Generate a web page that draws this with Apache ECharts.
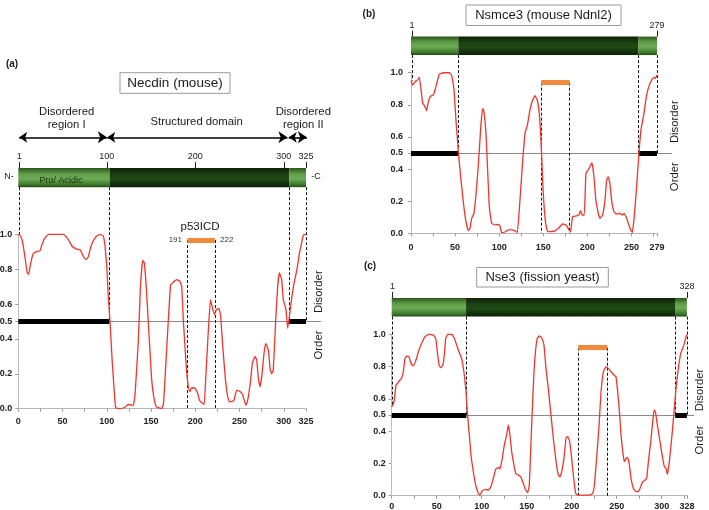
<!DOCTYPE html>
<html><head><meta charset="utf-8">
<script src="https://cdn.jsdelivr.net/npm/echarts@6/dist/echarts.min.js"></script>
<style>html,body{margin:0;padding:0;background:#fff}#c{width:709px;height:510px}</style>
</head><body><div id="c"></div>
<script>
// ---------- DATA ----------
const yTickValues = [0, 0.2, 0.4, 0.5, 0.6, 0.8, 1.0];

// Panel (a) Necdin (mouse)
const aLength = 325;
const aTopTicks = [1, 100, 200, 300, 325];
const aBottomLabels = [0, 50, 100, 150, 200, 250, 300, 325];
const aBottomTicks = [0, 25, 50, 75, 100, 125, 150, 175, 200, 225, 250, 275, 300, 325];
const aDomains = [[0, 103, 0], [103, 306, 1], [306, 325, 0]];
const aDisorderBars = [[0, 103], [306, 325]];
const aBoundaryDashes = [[1, 1.0], [103, 0.5], [306, 0.5], [325, 0.5]];
const aSite = [191, 222];
const aArrows = [[1, 100], [100.5, 304], [305.5, 326]];
const aCurve = [[0,1.0],[2.6,0.99],[5,0.95],[7.5,0.87],[10,0.78],[11.7,0.77],[14,0.835],[17,0.89],[20.7,0.90],[24.5,0.905],[26,0.93],[29,0.97],[34,1.0],[51,1.0],[56.5,0.97],[61,0.93],[66,0.915],[70,0.91],[72.7,0.88],[76.5,0.855],[79,0.87],[82,0.93],[86.6,0.98],[92,1.0],[96,0.99],[98,0.93],[100,0.81],[101.7,0.64],[103.6,0.5],[106,0.28],[108.5,0.09],[110,0.005],[115,0.0],[120.5,0.008],[124,0.025],[128,0.02],[130,0.02],[132,0.09],[135.6,0.39],[138,0.70],[140.5,0.85],[142.4,0.835],[145,0.66],[148,0.395],[150.7,0.165],[153,0.07],[156,0.01],[162,0.0],[164,0.03],[166.5,0.24],[169.5,0.51],[172,0.71],[174,0.72],[176,0.73],[179,0.74],[182.7,0.73],[184.6,0.70],[186.4,0.51],[189.5,0.26],[192,0.126],[194,0.098],[196,0.12],[199.6,0.117],[202.6,0.088],[204.5,0.05],[207,0.035],[210,0.025],[212,0.2],[214.7,0.45],[217,0.625],[219,0.585],[221.5,0.54],[224,0.57],[226.7,0.575],[228.6,0.53],[231,0.356],[234,0.165],[236.5,0.07],[238.4,0.04],[241,0.04],[243.7,0.05],[246.7,0.107],[250.5,0.098],[253.5,0.08],[257,0.02],[258.8,0.04],[261.8,0.136],[264.4,0.26],[267.4,0.30],[269.3,0.28],[271,0.184],[273,0.126],[275,0.184],[277.6,0.318],[279.5,0.375],[282.5,0.337],[284.4,0.23],[286.2,0.2],[288,0.22],[290.8,0.51],[293,0.70],[295,0.78],[297.5,0.74],[299.4,0.625],[302.4,0.567],[304.3,0.46],[306,0.52],[309,0.64],[311.5,0.72],[314.5,0.79],[317.5,0.89],[320,0.95],[322,0.996],[325,1.0]];

// Panel (b) Nsmce3 (mouse Ndnl2)
const bLength = 279;
const bTopTicks = [1, 279];
const bBottomLabels = [0, 50, 100, 150, 200, 250, 279];
const bBottomTicks = [0, 25, 50, 75, 100, 125, 150, 175, 200, 225, 250, 275, 279];
const bDomains = [[0, 53.6, 0], [53.6, 258, 1], [258, 279, 0]];
const bDisorderBars = [[0, 54], [258, 279]];
const bBoundaryDashes = [[1, 0.95], [53.6, 0.5], [258, 0.5], [279, 0.5]];
const bSite = [147.6, 180];
const bCurve = [[0,0.95],[1.9,0.923],[4.5,0.944],[7.2,0.954],[9.4,0.971],[11,0.913],[13.2,0.813],[15.9,0.788],[17.8,0.763],[19.7,0.82],[22.3,0.855],[25.3,0.861],[28.3,0.913],[32,0.99],[36.7,1.0],[43.5,1.0],[46,0.985],[48.8,0.892],[51,0.705],[53.7,0.508],[56.3,0.353],[59.3,0.197],[62,0.083],[65,0.017],[67,0.031],[68.8,0.093],[71.4,0.124],[74.5,0.29],[77.5,0.519],[79.4,0.685],[81.3,0.778],[82.8,0.757],[85,0.622],[86.9,0.394],[88.8,0.166],[91.5,0.062],[95.2,0.052],[99,0.056],[100.9,0.046],[102.8,0.004],[106.6,0.008],[110.4,0.021],[114,0.021],[118,0.015],[120.6,0.004],[123.6,0.207],[126.2,0.415],[129.3,0.622],[132,0.674],[134.9,0.768],[138,0.83],[140.6,0.857],[143.2,0.83],[145.5,0.747],[147,0.622],[148.1,0.498],[150,0.249],[152.7,0.062],[155,0.01],[157.6,0.01],[163.3,0.015],[167.1,0.031],[172,0.058],[175.8,0.052],[179.5,0.02],[181,0.01],[183.3,0.104],[187.8,0.108],[190.8,0.12],[192.3,0.141],[193.9,0.114],[196.5,0.114],[198.4,0.373],[201,0.394],[203.7,0.425],[205.2,0.44],[207.5,0.353],[209.7,0.207],[212.4,0.124],[214.3,0.093],[217.3,0.114],[220,0.207],[221.9,0.332],[223.7,0.353],[225.6,0.311],[227.5,0.207],[230.2,0.135],[233.2,0.12],[237,0.124],[240,0.114],[241.5,0.124],[243.8,0.104],[246.5,0.062],[249.1,0.02],[251,0.004],[253.2,0.104],[255.9,0.29],[258.5,0.498],[260.8,0.643],[264.2,0.747],[267.2,0.861],[270.3,0.923],[272.9,0.954],[275.6,0.971],[277.4,0.965],[279,0.985]];

// Panel (c) Nse3 (fission yeast)
const cLength = 328;
const cTopTicks = [1, 328];
const cBottomLabels = [0, 50, 100, 150, 200, 250, 300, 328];
const cBottomTicks = [0, 25, 50, 75, 100, 125, 150, 175, 200, 225, 250, 275, 300, 325, 328];
const cDomains = [[0, 82.6, 0], [82.6, 314.8, 1], [314.8, 328, 0]];
const cDisorderBars = [[0, 83], [315, 328]];
const cBoundaryDashes = [[1, 0.56], [82.6, 0.5], [314.8, 0.5], [328, 0.5]];
const cSite = [207.3, 239.6];
const cCurve = [[0,0.551],[1.8,0.566],[2.9,0.593],[4.8,0.686],[6.6,0.696],[9.2,0.717],[11,0.727],[12.9,0.768],[14.8,0.851],[16.6,0.865],[19.2,0.861],[21.4,0.82],[24,0.805],[27,0.84],[29.6,0.892],[33.3,0.944],[37,0.985],[40.7,1.0],[46.3,0.995],[48.9,0.975],[50.7,0.892],[52.6,0.81],[54.4,0.793],[56.6,0.805],[58.5,0.872],[60,0.975],[62.2,1.0],[66.6,1.0],[69.6,0.975],[72.2,0.933],[74.8,0.892],[77.7,0.851],[80.7,0.748],[82.6,0.644],[84,0.52],[85.9,0.397],[88.1,0.252],[90.7,0.149],[93.3,0.066],[96.3,0.014],[98,0.004],[100.7,0.031],[103.7,0.039],[107.4,0.035],[110.3,0.056],[112.9,0.107],[115.5,0.163],[118.5,0.176],[120.3,0.165],[122.9,0.231],[125.1,0.314],[127.7,0.376],[129.6,0.438],[131.4,0.376],[133.3,0.273],[135.5,0.2],[137.7,0.138],[140.7,0.128],[143.3,0.118],[146.3,0.076],[148.9,0.035],[151.1,0.019],[152.9,0.066],[155.5,0.438],[158.1,0.768],[159.7,0.892],[161.8,0.975],[164,0.99],[166.6,0.979],[169.2,0.933],[171.4,0.789],[174,0.665],[176.6,0.52],[179.6,0.355],[182.6,0.211],[185.2,0.128],[187,0.118],[188.9,0.149],[191.4,0.231],[193.7,0.359],[195.5,0.366],[197.4,0.345],[199.2,0.273],[201.8,0.128],[204.4,0.014],[206.6,0.004],[212.9,0.004],[220.3,0.004],[223.3,0.014],[225.2,0.066],[227.7,0.231],[230.4,0.438],[232.6,0.644],[235.2,0.768],[238.1,0.8],[240.7,0.789],[243.7,0.768],[247,0.748],[249.2,0.737],[251.1,0.644],[253,0.52],[254.8,0.376],[256.7,0.273],[258.5,0.211],[260.4,0.231],[262.2,0.235],[264.1,0.19],[265.9,0.107],[268.5,0.045],[271.4,0.025],[274,0.025],[275.9,0.045],[278.9,0.087],[281.5,0.097],[283.3,0.107],[285.2,0.211],[287.8,0.335],[290,0.459],[291.5,0.531],[293,0.52],[295.2,0.438],[298.1,0.335],[301.1,0.231],[303,0.18],[304.8,0.169],[306.3,0.132],[308.5,0.211],[311.1,0.355],[313.7,0.52],[315.9,0.665],[318.5,0.789],[321.1,0.882],[323.3,0.913],[325.2,0.944],[327,0.985],[328.5,1.0]];

// ---------- LAYOUT ----------
const FONT = "'Liberation Sans', Arial, Helvetica, sans-serif";
const panels = [
  { grid: {left: 18.3, top: 168.0, width: 287.7, height: 240.7}, len: aLength, yMax: 1.38, barY: [1.27, 1.38],
    topTicks: aTopTicks, botLabels: aBottomLabels, botTicks: aBottomTicks, domains: aDomains, bars: aDisorderBars,
    dashes: aBoundaryDashes, site: aSite, siteY: 0.967, grayEnd: 342, curve: aCurve, xMargin: 8, yMargin: 6, arrows: aArrows, arrowY: 1.556 },
  { grid: {left: 411, top: 36.6, width: 246, height: 196.7}, len: bLength, yMax: 1.225, barY: [1.11, 1.225],
    topTicks: bTopTicks, botLabels: bBottomLabels, botTicks: bBottomTicks, domains: bDomains, bars: bDisorderBars,
    dashes: bBoundaryDashes, site: bSite, siteY: 0.938, grayEnd: 296, curve: bCurve, xMargin: 10, yMargin: 8 },
  { grid: {left: 391.7, top: 298.0, width: 295.2, height: 197.7}, len: cLength, yMax: 1.225, barY: [1.11, 1.225],
    topTicks: cTopTicks, botLabels: cBottomLabels, botTicks: cBottomTicks, domains: cDomains, bars: cDisorderBars,
    dashes: cBoundaryDashes, site: cSite, siteY: 0.917, grayEnd: 336, curve: cCurve, xMargin: 6.5, yMargin: 6 }
];

const lightGrad = () => new echarts.graphic.LinearGradient(0, 0, 0, 1, [
  {offset: 0, color: '#2a561b'}, {offset: 0.3, color: '#5f9c47'}, {offset: 0.55, color: '#6eab55'}, {offset: 0.85, color: '#3f7a2c'}, {offset: 1, color: '#244a17'}]);
const darkGrad = () => new echarts.graphic.LinearGradient(0, 0, 0, 1, [
  {offset: 0, color: '#0c2207'}, {offset: 0.35, color: '#1c4313'}, {offset: 0.6, color: '#1f4815'}, {offset: 1, color: '#0a1e06'}]);

const grids = [], xAxes = [], yAxes = [], series = [];
panels.forEach((p, i) => {
  grids.push(Object.assign({outerBoundsMode: 'none', containLabel: false}, p.grid));
  xAxes.push({ type: 'value', gridIndex: i, min: 0, max: p.len, position: 'bottom',
    axisLine: {show: true, lineStyle: {color: '#b5b5b5', width: 1}},
    axisTick: {show: true, customValues: p.botTicks, length: 3, lineStyle: {color: '#999'}},
    axisLabel: {customValues: p.botLabels, fontSize: 9, fontWeight: 'bold', color: '#222', fontFamily: FONT, margin: p.xMargin},
    splitLine: {show: false} });
  xAxes.push({ type: 'value', gridIndex: i, min: 0, max: p.len, position: 'top',
    axisLine: {show: false},
    axisTick: {show: true, customValues: p.topTicks, length: 6, lineStyle: {color: '#222', width: 1}},
    axisLabel: {customValues: p.topTicks, fontSize: 9, color: '#222', fontFamily: FONT, margin: 7},
    splitLine: {show: false} });
  yAxes.push({ type: 'value', gridIndex: i, min: 0, max: p.yMax,
    axisLine: {show: false},
    axisTick: {show: true, customValues: yTickValues, length: 3, lineStyle: {color: '#999'}},
    axisLabel: {customValues: yTickValues, formatter: v => v.toFixed(1), fontSize: 9, fontWeight: 'bold', color: '#222', fontFamily: FONT, margin: p.yMargin},
    splitLine: {show: false} });
  const xi = i * 2, yi = i;
  series.push({ type: 'custom', xAxisIndex: xi, yAxisIndex: yi, z: 2, clip: false,
    encode: {x: [0, 1]},
    data: p.domains,
    renderItem: (params, api) => {
      const a = api.coord([api.value(0), p.barY[1]]);
      const b = api.coord([api.value(1), p.barY[0]]);
      return {type: 'rect', shape: {x: a[0], y: a[1], width: b[0] - a[0], height: b[1] - a[1]},
        style: {fill: api.value(2) === 0 ? lightGrad() : darkGrad()}};
    }});
  series.push({ type: 'lines', coordinateSystem: 'cartesian2d', xAxisIndex: xi, yAxisIndex: yi, z: 1, silent: true,
    data: [{coords: [[0, 0], [0, 1.0]]}], lineStyle: {color: '#bdbdbd', width: 1, opacity: 1} });
  series.push({ type: 'lines', coordinateSystem: 'cartesian2d', xAxisIndex: xi, yAxisIndex: yi, z: 2, silent: true, clip: false,
    data: [{coords: [[0, 0.5], [p.grayEnd, 0.5]]}], lineStyle: {color: '#8a8a8a', width: 1, opacity: 1} });
  series.push({ type: 'lines', coordinateSystem: 'cartesian2d', xAxisIndex: xi, yAxisIndex: yi, z: 3, silent: true,
    data: p.dashes.map(d => ({coords: [[d[0], p.barY[0]], [d[0], d[1]]]})),
    lineStyle: {color: '#111', width: 1, type: [3, 2], opacity: 1} });
  series.push({ type: 'lines', coordinateSystem: 'cartesian2d', xAxisIndex: xi, yAxisIndex: yi, z: 3, silent: true,
    data: p.site.map(s => ({coords: [[s, p.siteY], [s, 0]]})),
    lineStyle: {color: '#111', width: 1, type: [3, 2], opacity: 1} });
  series.push({ type: 'lines', coordinateSystem: 'cartesian2d', xAxisIndex: xi, yAxisIndex: yi, z: 4, silent: true,
    data: p.bars.map(b => ({coords: [[b[0], 0.5], [b[1], 0.5]]})),
    lineStyle: {color: '#000', width: 5, opacity: 1, cap: 'butt'} });
  series.push({ type: 'lines', coordinateSystem: 'cartesian2d', xAxisIndex: xi, yAxisIndex: yi, z: 5, silent: true,
    data: [{coords: [[p.site[0], p.siteY], [p.site[1], p.siteY]]}],
    lineStyle: {color: '#f08a3c', width: 5, opacity: 1, cap: 'butt'} });
  series.push({ type: 'line', xAxisIndex: xi, yAxisIndex: yi, z: 6, data: p.curve, showSymbol: false, symbol: 'none',
    smooth: 0.1, lineStyle: {color: '#f2352c', width: 1.3}, silent: true });
  if (p.arrows) {
    series.push({ type: 'lines', coordinateSystem: 'cartesian2d', xAxisIndex: xi, yAxisIndex: yi, z: 6, silent: true, clip: false,
      data: p.arrows.map(a => ({coords: [[a[0], p.arrowY], [a[1], p.arrowY]]})),
      symbol: ['arrow', 'arrow'], symbolSize: [8, 9],
      lineStyle: {color: '#000', width: 1.6, opacity: 1} });
  }
});

const txt = (x, y, text, size, opts) => Object.assign({type: 'text', x: x, y: y, z: 100,
  style: Object.assign({text: text, font: size + 'px ' + FONT, fill: '#1a1a1a', align: 'center', verticalAlign: 'middle'}, (opts && opts.style) || {})},
  opts && opts.rotation ? {rotation: opts.rotation} : {});
const box = (x, y, w, h) => ({type: 'rect', z: 99, shape: {x: x, y: y, width: w, height: h}, style: {fill: '#fff', stroke: '#9a9a9a', lineWidth: 1}});
const R = Math.PI / 2;
const graphic = [
  txt(12, 64, '(a)', 10, {style: {font: 'bold 10px ' + FONT}}),
  box(120, 72.7, 110, 20.6), txt(175, 83.2, 'Necdin (mouse)', 13.5),
  txt(66.7, 112.3, 'Disordered', 11.3), txt(66.7, 125, 'region I', 11.3),
  txt(196.7, 121.7, 'Structured domain', 11.3),
  txt(303.3, 112.3, 'Disordered', 11.3), txt(303.3, 125, 'region II', 11.3),
  txt(9, 177, 'N-', 8.5), txt(316, 177, '-C', 9),
  txt(61, 180.5, 'Pro/ Acidic', 9, {style: {fill: '#16300d'}}),
  txt(200, 226.7, 'p53ICD', 11.5),
  txt(182, 240, '191', 8, {style: {align: 'right', fill: '#333'}}),
  txt(220, 240, '222', 8, {style: {align: 'left', fill: '#333'}}),
  txt(319.3, 291.7, 'Disorder', 11.3, {rotation: R}),
  txt(319.3, 345, 'Order', 11.3, {rotation: R}),

  txt(369, 14, '(b)', 10, {style: {font: 'bold 10px ' + FONT}}),
  box(466, 5, 155, 20.5), txt(543.5, 15.2, 'Nsmce3 (mouse Ndnl2)', 13),
  txt(675, 121.7, 'Disorder', 11.3, {rotation: R}),
  txt(675, 176.7, 'Order', 11.3, {rotation: R}),

  txt(370, 266, '(c)', 10, {style: {font: 'bold 10px ' + FONT}}),
  box(476.7, 267.5, 131.6, 19.5), txt(542.5, 277.3, 'Nse3 (fission yeast)', 13),
  txt(700, 390, 'Disorder', 11.3, {rotation: R}),
  txt(700, 440, 'Order', 11.3, {rotation: R})
];

const chart = echarts.init(document.getElementById('c'), null, {renderer: 'canvas'});
chart.setOption({
  animation: false,
  backgroundColor: '#fff',
  grid: grids, xAxis: xAxes, yAxis: yAxes, series: series, graphic: graphic
});
</script></body></html>
